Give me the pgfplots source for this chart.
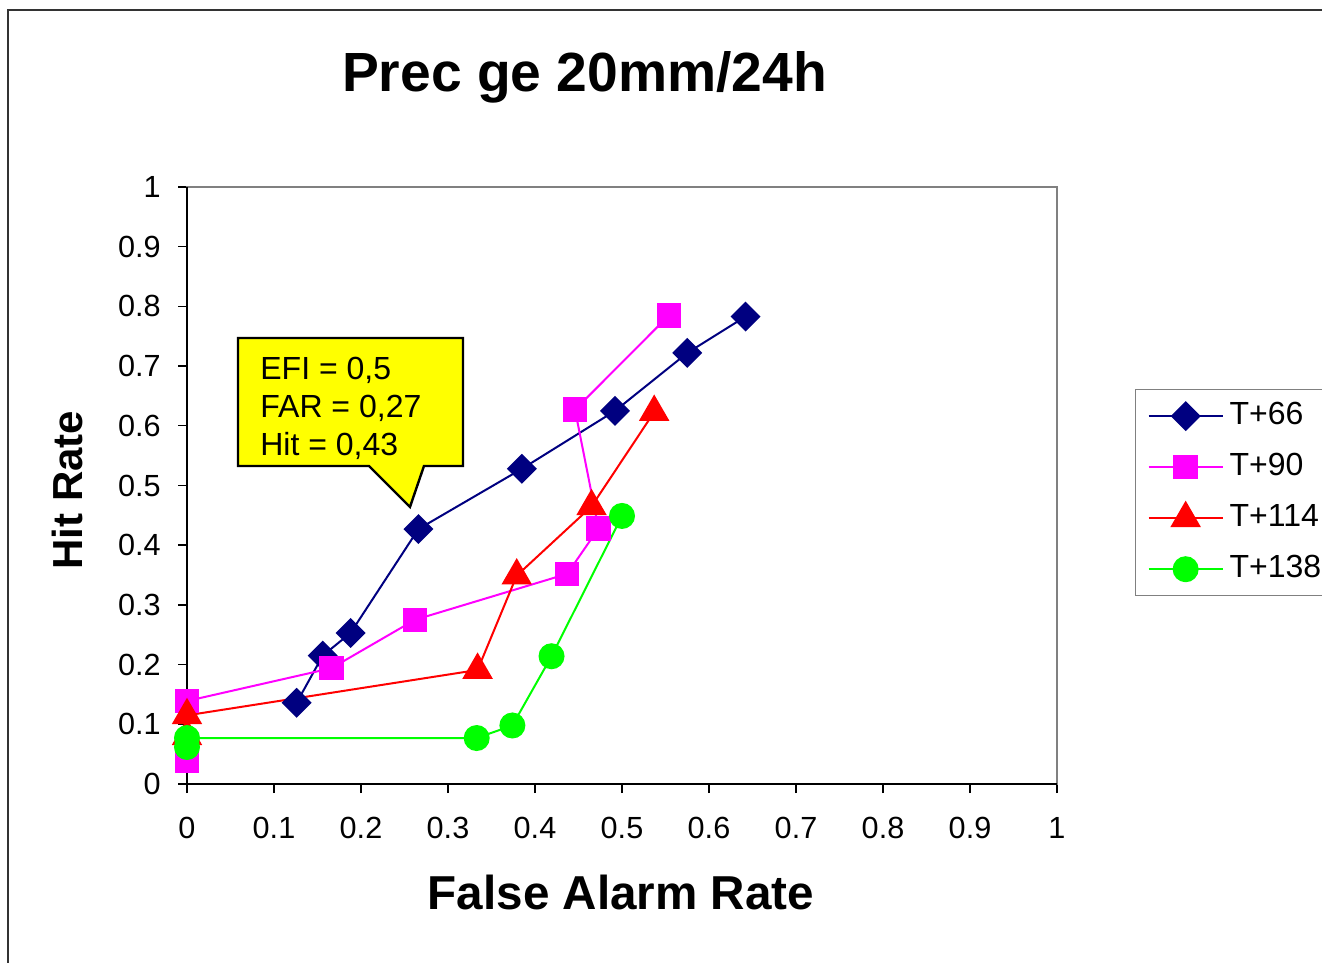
\documentclass[border=0pt]{standalone}
\usepackage{fontspec}
\setmainfont{Liberation Sans}
\usepackage{pgfplots}
\pgfplotsset{compat=1.18}
\definecolor{navyc}{RGB}{0,0,128}
\definecolor{magc}{RGB}{255,0,255}
\definecolor{redc}{RGB}{255,0,0}
\definecolor{greenc}{RGB}{0,255,0}
\definecolor{framegray}{RGB}{128,128,128}
\definecolor{calloutyellow}{RGB}{255,255,0}
\begin{document}
\begin{tikzpicture}
\useasboundingbox (-93.5pt,-89.5pt) rectangle (567.5pt,392pt);
\fill[white] (-93.5pt,-89.5pt) rectangle (567.5pt,392pt);
\draw[line width=0.8pt, black!80] (-89.5pt,-130pt) rectangle (640pt,387pt);
\begin{axis}[
  at={(0pt,0pt)}, anchor=south west,
  scale only axis, width=435pt, height=298.5pt,
  xmin=0, xmax=1, ymin=0, ymax=1,
  clip=false,
  xtick={0,0.1,0.2,0.3,0.4,0.5,0.6,0.7,0.8,0.9,1},
  ytick={0,0.1,0.2,0.3,0.4,0.5,0.6,0.7,0.8,0.9,1},
  xtick pos=bottom, ytick pos=left,
  tick align=outside, major tick length=4.5pt,
  tick style={black, line width=0.7pt},
  axis line style={draw=framegray, line width=1.3pt},
  /pgf/number format/assume math mode=true,
  /pgf/number format/fixed,
  ticklabel style={font=\fontsize{15.3}{18}\selectfont},
  xticklabel style={inner sep=0pt, anchor=north, yshift=-12pt},
  yticklabel style={inner sep=0pt, anchor=east, xshift=-8.5pt},
  legend style={at={(1.0897,0.6616)}, anchor=north west, draw=framegray, line width=0.6pt,
    font=\fontsize{16}{19}\selectfont,
    nodes={inner sep=0pt, text height=12pt, text depth=3.5pt},
    row sep=10pt, inner xsep=6pt, inner ysep=5.5pt,
    /tikz/every odd column/.append style={column sep=3pt}},
  legend cell align=left,
  legend image code/.code={\draw[mark repeat=2,mark phase=2,#1] plot coordinates {(0pt,0pt) (18.5pt,0pt) (37pt,0pt)};},
  every axis plot/.append style={line width=1pt},
]
\addplot[navyc, mark=square*, mark size=4.8pt, mark options={rotate=45, fill=navyc, draw=navyc}] coordinates {
 (0.126,0.136) (0.156,0.215) (0.188,0.253) (0.266,0.427) (0.385,0.528) (0.492,0.625) (0.575,0.722) (0.642,0.783)
};
\addlegendentry{T+66}
\addplot[magc, mark=square*, mark size=5.6pt, mark options={fill=magc, draw=magc}] coordinates {
 (0,0.039) (0,0.139) (0.166,0.194) (0.262,0.275) (0.437,0.352) (0.473,0.428) (0.446,0.627) (0.554,0.785)
};
\addlegendentry{T+90}
\addplot[redc, mark=triangle*, mark size=7.8pt, mark options={fill=redc, draw=redc}] coordinates {
 (0,0.08) (0,0.115) (0.334,0.191) (0.379,0.349) (0.465,0.465) (0.537,0.623)
};
\addlegendentry{T+114}
\addplot[greenc, mark=*, mark size=6pt, mark options={fill=greenc, draw=greenc}] coordinates {
 (0,0.062) (0,0.077) (0.333,0.077) (0.374,0.098) (0.419,0.214) (0.5,0.449)
};
\addlegendentry{T+138}
\draw[black, line width=1.3pt] (rel axis cs:0,1) -- (rel axis cs:0,0) -- (rel axis cs:1,0);
\draw[black, line width=1.2pt, fill=calloutyellow]
  (axis cs:0.0586,0.7471) -- (axis cs:0.3172,0.7471) -- (axis cs:0.3172,0.5327) -- (axis cs:0.2724,0.5327)
  -- (axis cs:0.2563,0.464) -- (axis cs:0.2092,0.5327) -- (axis cs:0.0586,0.5327) -- cycle;
\node[anchor=west, align=left, inner sep=0pt, font=\fontsize{16}{19}\selectfont] at (axis cs:0.0839,0.6285)
  {EFI = 0,5\\FAR = 0,27\\Hit = 0,43};
\end{axis}
\node[anchor=base, font=\fontsize{27.6}{32}\selectfont\bfseries] at (198.75pt,346pt) {Prec ge 20mm/24h};
\node[anchor=base, font=\fontsize{23.8}{28}\selectfont\bfseries] at (217pt,-63pt) {False Alarm Rate};
\node[anchor=base, rotate=90, font=\fontsize{21}{25}\selectfont\bfseries] at (-52pt,147pt) {Hit Rate};
\end{tikzpicture}
\end{document}
